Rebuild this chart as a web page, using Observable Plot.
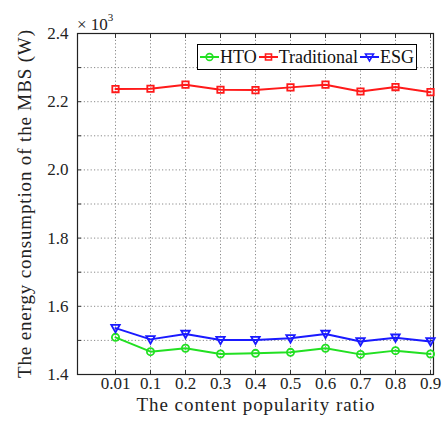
<!DOCTYPE html>
<html>
<head>
<meta charset="utf-8">
<script src="https://cdn.jsdelivr.net/npm/d3@7"></script>
<script src="https://cdn.jsdelivr.net/npm/@observablehq/plot@0.6"></script>
<style>
  html, body { margin: 0; padding: 0; background: #fff; }
  #wrap { position: relative; width: 447px; height: 424px; font-family: "Liberation Serif", serif; }
  #legend { position: absolute; left: 197px; top: 44px; width: 218px; height: 24px; border: 1px solid #000; background: #fff;
            display: flex; align-items: center; justify-content: center; gap: 2px; font-size: 18px; color: #111; }
  #legend .item { display: flex; align-items: center; gap: 1px; }
  #mult { position: absolute; left: 77px; top: 11px; font-size: 17px; color: #222; line-height: 17px; }
  #mult sup { font-size: 11px; position: relative; top: -2px; }
</style>
</head>
<body>
<div id="wrap">
  <div id="chart"></div>
  <div id="mult">× 10<sup>3</sup></div>
  <div id="legend"></div>
</div>
<script>
const categories = ["0.01", "0.1", "0.2", "0.3", "0.4", "0.5", "0.6", "0.7", "0.8", "0.9"];
const hto = [1.509, 1.467, 1.477, 1.460, 1.462, 1.465, 1.477, 1.459, 1.470, 1.460];
const traditional = [2.237, 2.238, 2.250, 2.235, 2.234, 2.242, 2.250, 2.230, 2.243, 2.228];
const esg = [1.536, 1.503, 1.519, 1.501, 1.501, 1.506, 1.519, 1.497, 1.508, 1.497];
const seriesNames = ["HTO", "Traditional", "ESG"];
const seriesColors = ["#22e022", "#ff1a1a", "#1a1aff"];
const yTicks = [1.4, 1.6, 1.8, 2.0, 2.2, 2.4];
const yGrid = [1.5, 1.6, 1.7, 1.8, 1.9, 2.0, 2.1, 2.2, 2.3];
const xLabel = "The content popularity ratio";
const yLabel = "The energy consumption of the MBS (W)";

const triangleDown = {
  draw(context, size) {
    const h = Math.sqrt(size) * 1.1;
    context.moveTo(-h * 0.6, -h * 0.45);
    context.lineTo(h * 0.6, -h * 0.45);
    context.lineTo(0, h * 0.6);
    context.closePath();
  }
};
const seriesSymbols = ["circle", "square", triangleDown];

const rows = [];
[hto, traditional, esg].forEach((vals, s) => {
  vals.forEach((v, i) => rows.push({ series: seriesNames[s], x: categories[i], y: v }));
});

const domainX = [""].concat(categories);
const font = "Liberation Serif, serif";
const gridStyle = { stroke: "#8a8a8a", strokeOpacity: 1, strokeDasharray: "1.2,2.2", strokeWidth: 1 };
const allYTicks = yGrid.concat([1.4, 2.4]);
const tickOnly = { tickSize: -4, tickFormat: () => "", fill: "none", label: null, stroke: "#333" };

const chart = Plot.plot({
  width: 447,
  height: 424,
  marginLeft: 77,
  marginRight: 14,
  marginTop: 33,
  marginBottom: 50,
  style: { fontFamily: font, fontSize: "17px", color: "#222", background: "#fff" },
  x: { type: "point", domain: domainX, padding: 0 },
  y: { domain: [1.4, 2.4] },
  color: { domain: seriesNames, range: seriesColors },
  symbol: { domain: seriesNames, range: seriesSymbols },
  marks: [
    Plot.gridY(yGrid, gridStyle),
    Plot.gridX(categories, gridStyle),
    Plot.axisY(allYTicks, { anchor: "left", ...tickOnly }),
    Plot.axisY(allYTicks, { anchor: "right", ...tickOnly }),
    Plot.axisX(categories, { anchor: "bottom", ...tickOnly }),
    Plot.axisX(categories, { anchor: "top", ...tickOnly }),
    Plot.axisY(yTicks, { tickSize: 0, tickPadding: 9, tickFormat: d => d.toFixed(1), fontSize: 17, label: null }),
    Plot.axisX(categories, { tickSize: 0, tickPadding: 2, fontSize: 17, label: null }),
    Plot.text([yLabel], { frameAnchor: "left", dx: -53, rotate: -90, textAnchor: "middle", lineAnchor: "middle", fontSize: 19, fill: "#222", className: "ylab" }),
    Plot.text([xLabel], { frameAnchor: "bottom", dy: 30, textAnchor: "middle", lineAnchor: "middle", fontSize: 19, fill: "#222", className: "xlab" }),
    Plot.frame({ stroke: "#222", strokeWidth: 1.2 }),
    Plot.line(rows, { x: "x", y: "y", z: "series", stroke: "series", strokeWidth: 2 }),
    Plot.dot(rows, { x: "x", y: "y", symbol: "series", stroke: "series", fill: "none", strokeWidth: 1.8, r: 3.6 })
  ]
});
document.getElementById("chart").appendChild(chart);

// stretch axis titles to the reference's lengths
function fit(cls, len) {
  chart.querySelectorAll("g." + cls + " text").forEach(t => {
    t.setAttribute("textLength", len);
    t.setAttribute("lengthAdjust", "spacing");
  });
}
fit("xlab", 238);
fit("ylab", 348);

// legend built from series arrays
const legend = document.getElementById("legend");
seriesNames.forEach((name, i) => {
  const item = document.createElement("span");
  item.className = "item";
  const sw = d3.create("svg").attr("width", 19).attr("height", 14);
  sw.append("line").attr("x1", 0).attr("x2", 19).attr("y1", 7).attr("y2", 7)
    .attr("stroke", seriesColors[i]).attr("stroke-width", 2);
  const sym = typeof seriesSymbols[i] === "string"
    ? d3.symbol(seriesSymbols[i] === "circle" ? d3.symbolCircle : d3.symbolSquare, 36)
    : d3.symbol(seriesSymbols[i], 36);
  sw.append("path").attr("d", sym()).attr("transform", "translate(9.5,7)")
    .attr("fill", "none").attr("stroke", seriesColors[i]).attr("stroke-width", 1.6);
  item.appendChild(sw.node());
  const t = document.createElement("span");
  t.textContent = name;
  item.appendChild(t);
  legend.appendChild(item);
});
</script>
</body>
</html>
